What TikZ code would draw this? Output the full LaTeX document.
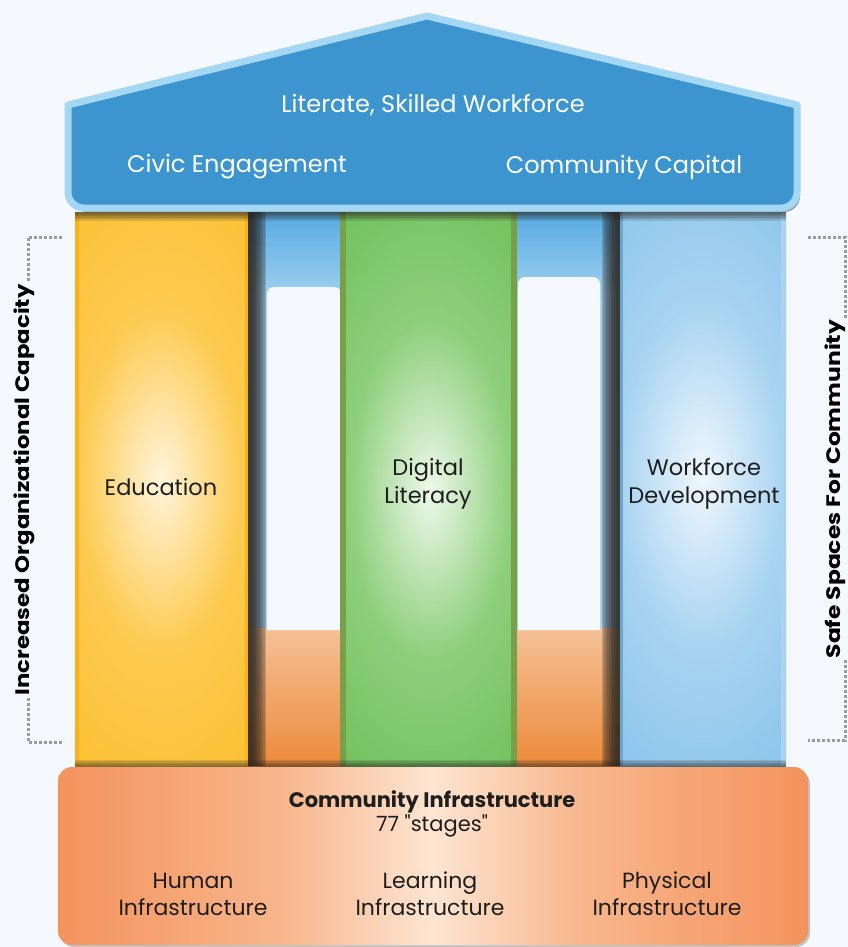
\documentclass[tikz,border=0pt]{standalone}
\usepackage{fontspec}
\setmainfont{Poppins}
\newfontfamily\plainfont{Poppins}
\definecolor{bg}{HTML}{F5F9FD}
\definecolor{roofFill}{HTML}{3D95CF}
\definecolor{roofLine}{HTML}{A4D7F4}
\definecolor{yel}{HTML}{FBBB22}
\definecolor{yelMid}{HTML}{FDCB52}
\definecolor{yelLight}{HTML}{FFF4DC}
\definecolor{grn}{HTML}{5BB746}
\definecolor{grnMid}{HTML}{8ECF7C}
\definecolor{grnLight}{HTML}{EEF8EB}
\definecolor{grnEdge}{HTML}{77A049}
\definecolor{blu}{HTML}{74B9E7}
\definecolor{bluMid}{HTML}{A9D4F1}
\definecolor{bluLight}{HTML}{F0F7FD}
\definecolor{bluTop}{HTML}{56ABE2}
\definecolor{bluBot}{HTML}{A3D1F0}
\definecolor{orTop}{HTML}{F5C197}
\definecolor{orBot}{HTML}{EC8A3A}
\definecolor{orB}{HTML}{F4935D}
\definecolor{orM}{HTML}{F8B68C}
\definecolor{orL}{HTML}{FDE5D2}
\definecolor{darkSh}{HTML}{2A2622}
\definecolor{txt}{HTML}{1E1E1E}
\definecolor{brk}{HTML}{9C9C9C}
\pgfdeclareradialshading{glowYel}{\pgfpoint{0bp}{0bp}}{color(0bp)=(yelLight); color(10bp)=(yelMid); color(26bp)=(yel); color(50bp)=(yel)}
\pgfdeclareradialshading{glowGrn}{\pgfpoint{0bp}{0bp}}{color(0bp)=(grnLight); color(10bp)=(grnMid); color(27bp)=(grn); color(50bp)=(grn)}
\pgfdeclareradialshading{glowBlu}{\pgfpoint{0bp}{0bp}}{color(0bp)=(bluLight); color(10bp)=(bluMid); color(28bp)=(blu); color(50bp)=(blu)}
\pgfdeclarehorizontalshading{baseSh}{100bp}{color(0bp)=(orB); color(25bp)=(orB); color(40bp)=(orM); color(50bp)=(orL); color(60bp)=(orM); color(75bp)=(orB); color(100bp)=(orB)}
\begin{document}
\begin{tikzpicture}[x=1pt,y=-1pt,
  roofText/.style={text=white,font=\fontsize{24}{28}\selectfont},
  colText/.style={text=txt,align=center,font=\fontsize{22.5}{28}\selectfont},
  baseText/.style={text=txt,align=center,font=\fontsize{22}{27}\selectfont},
  sideText/.style={text=black,fill=bg,rotate=90,inner sep=2pt,font=\fontsize{19.5}{22}\selectfont\bfseries},
  bracket/.style={draw=brk,line width=3,dash pattern=on 3 off 2}]
\useasboundingbox[fill=bg] (0,0) rectangle (848,947);

% side brackets
\draw[bracket] (62,237) -- (28,237) -- (28,742) -- (62,742);
\draw[bracket] (808,237) -- (845,237) -- (845,740) -- (808,740);
\node[sideText] (leftlbl) at (24,490) {\scalebox{1.17}[1]{Increased Organizational Capacity}};
\node[sideText] (rightlbl) at (835,489) {\scalebox{1.2}[1]{Safe Spaces For Community}};

% Education column
\begin{scope}
\clip (75,212) rectangle (250,766);
\fill[yel] (75,212) rectangle (250,766);
\shade[shading=glowYel] (-40,62) rectangle (362,898);
\fill[yel!85!orange] (75,212) rectangle (79,766);
\fill[yel!85!orange] (245,212) rectangle (250,766);
\end{scope}

% gap 1
\shade[top color=bluTop,bottom color=bluBot] (248,212) rectangle (342,300);
\fill[bluBot] (248,300) rectangle (342,630);
\shade[top color=orTop,bottom color=orBot] (248,628) rectangle (342,766);
\fill[bg] (267,630) [rounded corners=7] -- (267,287) -- (341,287) [sharp corners] -- (341,630) -- cycle;
\foreach \i in {0,...,8} \fill[darkSh,opacity=0.2] (248,212) rectangle (252+\i*1.8,766);

% gap 2
\shade[top color=bluTop,bottom color=bluBot] (515,212) rectangle (622,300);
\fill[bluBot] (515,300) rectangle (622,630);
\shade[top color=orTop,bottom color=orBot] (515,628) rectangle (622,766);
\fill[bg] (518,630) [rounded corners=7] -- (518,277) -- (600,277) [sharp corners] -- (600,630) -- cycle;
\foreach \i in {0,...,8} \fill[darkSh,opacity=0.2] (620,212) rectangle (616-\i*1.8,766);

% Digital Literacy column
\begin{scope}
\clip (340,212) rectangle (517,766);
\fill[grn] (340,212) rectangle (517,766);
\shade[shading=glowGrn] (228,70) rectangle (632,910);
\fill[grnEdge] (340,212) rectangle (346,766);
\fill[grnEdge] (511,212) rectangle (517,766);
\end{scope}

% Workforce column
\begin{scope}
\clip (620,212) rectangle (786,766);
\fill[blu] (620,212) rectangle (786,766);
\shade[shading=glowBlu] (500,55) rectangle (904,895);
\fill[blu!90!black] (620,212) rectangle (623,766);
\fill[bluMid] (781,212) rectangle (786,766);
\end{scope}

% shadows under roof and above base
\foreach \i in {0,...,5} \fill[darkSh,opacity=0.15] (75,212) rectangle (786,213+\i*1.5);
\foreach \i in {0,...,5} \fill[darkSh,opacity=0.15] (75,768) rectangle (786,767-\i*1.5);

% base
\fill[darkSh,opacity=0.25,rounded corners=14] (60,770) rectangle (810,947);
\shade[shading=baseSh,rounded corners=14] (58,767) rectangle (808,945);

% roof
\fill[darkSh,opacity=0.45] (71,108) -- (430,19) -- (800,108) [rounded corners=16] -- (800,212) -- (71,212) [sharp corners] -- cycle;
\path[fill=roofFill,draw=roofLine,line width=7,line join=round]
  (68,105) -- (427,16) -- (797,105) [rounded corners=16] -- (797,208) -- (68,208) [sharp corners] -- cycle;

% texts
\node[roofText] (goal) at (433,105) {Literate, Skilled Workforce};
\node[roofText] (civic) at (237,167) {Civic Engagement};
\node[roofText] (capital) at (624,167) {Community Capital};

\node[colText] (edu) at (161,487) {Education};
\node[colText] (dig) at (428,484) {Digital\\Literacy};
\node[colText] (work) at (704,484) {Workforce\\Development};

\node[baseText,font=\fontsize{21}{24}\selectfont\bfseries] (ci) at (432,802) {Community Infrastructure};
\node[baseText,font=\plainfont\fontsize{21}{24}\selectfont] (stages) at (432,826) {77 "stages"};
\node[baseText] (human) at (193,894) {Human\\Infrastructure};
\node[baseText] (learn) at (430,894) {Learning\\Infrastructure};
\node[baseText] (phys) at (667,894) {Physical\\Infrastructure};
\end{tikzpicture}
\end{document}
